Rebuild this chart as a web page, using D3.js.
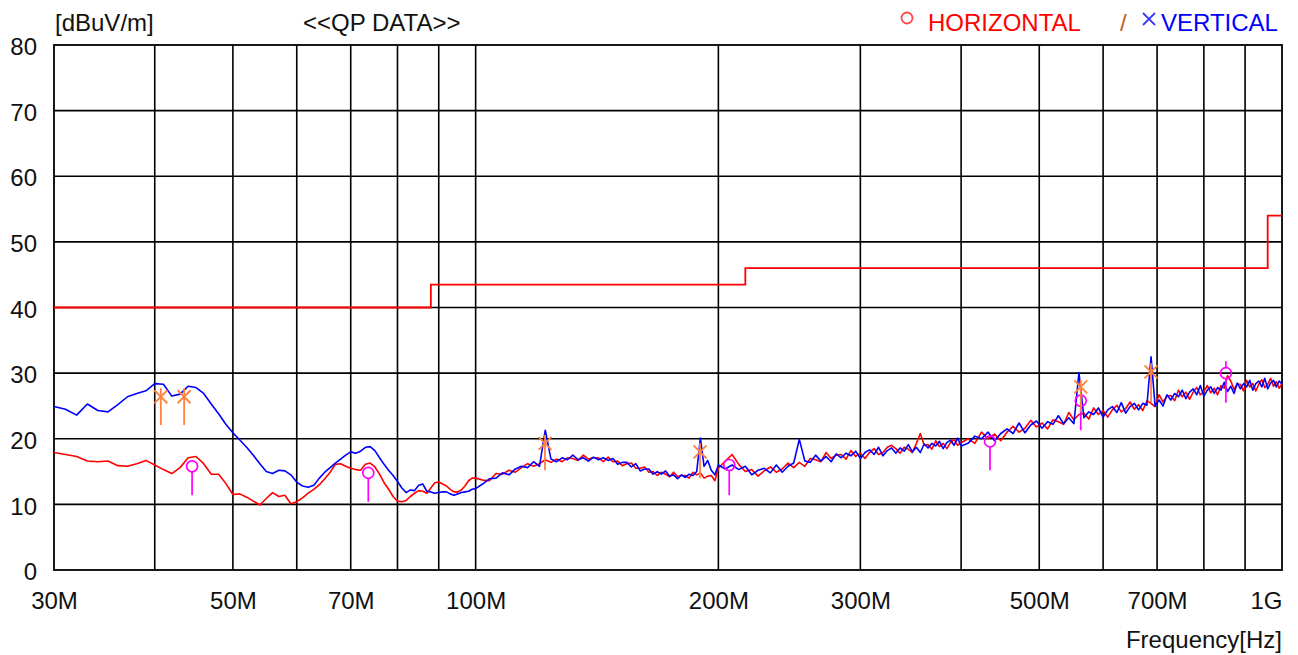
<!DOCTYPE html>
<html><head><meta charset="utf-8">
<script src="https://cdn.jsdelivr.net/npm/d3@7"></script>
<style>
body{margin:0;background:#fff;}
svg text{font-family:"Liberation Sans",Arial,sans-serif;font-size:24px;}
</style>
</head><body>
<svg id="chart" width="1298" height="655"></svg>
<script>
// ---- data (MHz, dBuV/m) ----
const freqMHz = [
30,31,32,33,34,35,36,37,38,39,40,41,42,43,44,45,46,47,48,49,
50,51,52,53,54,55,56,57,58,59,60,61,62,63,64,65,66,67,68,69,
70,71,72,73,74,75,76,77,78,79,80,81,82,83,84,85,86,87,88,89,
90,91,92,93,94,95,96,97,98,99,100,
102,104,106,108,110,112,114,116,118,120,122,124,126,128,130,132,134,136,138,140,
142,144,146,148,150,152,154,156,158,160,162,164,166,168,170,172,174,176,178,180,
182,184,186,188,190,192,194,196,198,200,
204,208,212,216,220,224,228,232,236,240,244,248,252,256,260,264,268,272,276,280,
284,288,292,296,300,304,308,312,316,320,324,328,332,336,340,344,348,352,356,360,
364,368,372,376,380,384,388,392,396,400,
408,416,424,432,440,448,456,464,472,480,488,496,504,512,520,528,536,544,552,560,
568,576,584,592,600,608,616,624,632,640,648,656,664,672,680,688,696,704,712,720,
728,736,744,752,760,768,776,784,792,800,808,816,824,832,840,848,856,864,872,880,
888,896,904,912,920,928,936,944,952,960,968,976,984,992,1000];

const horizontalLevel = [
17.9,17.6,17.3,16.6,16.5,16.6,15.9,15.8,16.2,16.7,
16.0,15.3,14.7,15.6,17.1,17.3,16.2,14.6,14.6,13.2,
11.5,11.6,11.1,10.5,9.9,10.9,11.8,11.2,11.4,10.1,
10.4,11.0,11.7,12.3,13.0,13.9,14.9,16.1,16.2,15.8,
15.5,15.3,15.2,16.1,16.3,15.7,14.6,13.3,12.3,11.2,
10.5,10.4,10.6,11.2,11.7,12.1,12.0,11.7,12.5,13.3,
13.4,13.1,12.8,12.3,11.9,11.9,12.2,12.8,13.6,14.0,
14.0,
13.7,13.6,14.7,14.6,15.2,14.9,15.6,16.2,15.8,16.2,
16.8,16.4,16.9,16.5,17.1,17.0,16.7,17.5,16.9,17.1,
17.1,16.5,17.2,16.5,16.6,15.9,16.2,16.3,15.5,15.5,
15.7,14.9,15.0,14.4,14.9,14.6,14.2,14.9,14.2,14.4,
14.4,14.0,14.9,14.5,14.8,14.0,14.3,14.4,13.6,15.5,
16.6,17.6,16.1,15.0,15.3,14.3,15.1,15.7,14.9,15.4,
16.3,15.6,16.4,15.8,17.0,16.8,16.5,17.9,17.0,17.5,
17.6,16.9,18.2,17.3,17.8,17.0,17.9,18.5,17.6,17.9,
18.7,19.0,18.5,17.8,18.7,18.4,17.9,19.3,20.8,19.0,
19.1,18.4,19.7,18.8,19.3,18.5,19.4,19.9,19.0,19.4,
20.0,19.3,21.0,20.0,20.7,19.7,21.0,21.9,21.0,21.6,
22.8,21.8,22.4,21.5,22.9,22.6,22.2,24.0,22.9,23.7,
23.9,23.0,24.7,23.7,24.3,23.3,24.4,25.1,24.1,24.6,
25.6,24.5,25.2,24.3,25.8,25.4,24.9,26.7,25.6,26.5,
26.6,25.8,27.4,26.4,27.1,26.0,27.1,27.8,26.7,27.2,
28.1,27.0,27.7,26.7,28.1,27.7,29.6,28.8,27.5,28.3,
28.3,27.3,28.9,27.9,28.4,27.3,28.3,29.0,27.8,28.3,
29.2,28.0,28.7,27.7,28.4];

const verticalLevel = [
24.9,24.5,23.6,25.3,24.3,24.1,25.2,26.4,26.9,27.3,
28.4,28.3,26.5,26.8,28.0,27.8,26.9,25.3,23.8,22.2,
20.9,19.8,18.7,17.5,16.2,15.0,14.7,15.2,15.1,14.5,
13.4,12.8,12.6,12.9,14.0,14.9,15.6,16.3,16.9,17.5,
18.0,17.8,18.1,18.7,18.8,18.2,17.1,16.1,15.2,14.4,
13.5,12.5,11.8,12.2,12.1,12.9,13.1,12.0,11.9,11.7,
11.8,11.9,11.9,11.6,11.4,11.6,11.8,11.9,12.0,12.3,
12.4,
13.1,13.9,14.0,14.8,14.5,15.4,15.8,15.6,16.5,15.8,
21.3,16.9,16.5,17.1,16.8,17.5,16.8,17.1,16.6,17.2,
16.8,17.1,16.7,17.0,16.1,16.4,16.4,15.7,16.2,15.1,
15.4,15.4,14.6,15.0,14.6,15.1,14.3,14.5,13.9,14.5,
14.1,14.6,14.4,15.0,20.1,15.8,16.7,15.2,14.5,16.0,
15.4,16.0,15.3,15.8,14.5,15.2,15.5,14.8,16.0,14.9,
15.8,16.3,19.9,16.6,16.4,17.5,16.6,17.3,16.5,17.7,
17.1,17.8,17.4,18.1,17.0,17.9,18.3,17.6,18.7,17.4,
18.2,18.6,17.8,18.6,18.1,19.1,18.0,18.7,17.9,19.2,
18.6,19.3,18.9,19.6,18.5,19.4,19.8,19.0,20.1,18.9,
19.3,20.4,20.0,21.0,19.7,20.8,21.5,20.8,22.4,20.9,
22.1,22.7,21.6,22.6,22.2,23.5,22.3,23.2,22.3,30.1,
23.2,24.1,23.7,24.7,23.3,24.4,24.9,24.0,25.5,23.9,
24.9,25.4,24.4,25.4,25.1,32.5,25.0,25.9,25.0,26.7,
25.9,26.9,26.4,27.4,26.1,27.1,27.6,26.7,28.1,26.5,
27.4,27.9,26.9,27.8,27.4,28.6,27.2,28.0,26.9,28.5,
27.6,28.4,27.9,28.9,27.4,28.4,28.8,27.9,29.2,27.6,
28.5,28.9,27.9,28.8,28.3];

const limitFreqMHz = [30, 88, 88, 216, 216, 960, 960, 1000];
const limitLevel   = [40, 40, 43.5, 43.5, 46, 46, 54, 54];

const horizontalMarkerFreq  = [44.5, 73.6, 206.3, 434.4, 562.9, 852];
const horizontalMarkerLevel = [15.8, 14.8, 16.0, 19.6, 25.8, 30.0];
const horizontalMarkerHigh  = [15.8, 14.8, 16.0, 19.6, 25.8, 31.8];
const horizontalMarkerLow   = [11.4, 10.4, 11.4, 15.2, 21.3, 25.5];

const verticalMarkerFreq  = [40.7, 43.5, 121.9, 189.8, 562.9, 688];
const verticalMarkerLevel = [26.4, 26.4, 19.3, 18.0, 27.9, 30.2];
const verticalMarkerHigh  = [27.7, 27.7, 20.6, 19.3, 29.0, 31.5];
const verticalMarkerLow   = [22.1, 22.1, 15.2, 14.0, 24.1, 25.6];

const xTickValues = [30, 50, 70, 100, 200, 300, 500, 700, 1000];
const xTickLabels = ["30M","50M","70M","100M","200M","300M","500M","700M","1G"];
const xGridValues = [40,50,60,70,80,90,100,200,300,400,500,600,700,800,900];
const yTickValues = [0,10,20,30,40,50,60,70,80];

// ---- drawing ----
const svg = d3.select("#chart");
const L = 54, R = 1282, T = 45, B = 570;
const x = d3.scaleLog().domain([30, 1000]).range([L, R]);
const y = d3.scaleLinear().domain([0, 80]).range([B, T]);

const COL_H = "#ff0000", COL_V = "#0000ff", COL_HM = "#ff00ff", COL_VM = "#ff8040";

// grid
const grid = svg.append("g").attr("stroke", "#000").attr("stroke-width", 1.6);
grid.selectAll("line.v").data(xGridValues).join("line")
  .attr("x1", d => x(d)).attr("x2", d => x(d)).attr("y1", T).attr("y2", B);
grid.selectAll("line.h").data(yTickValues.slice(1, -1)).join("line")
  .attr("x1", L).attr("x2", R).attr("y1", d => y(d)).attr("y2", d => y(d));
svg.append("rect").attr("x", L).attr("y", T).attr("width", R - L).attr("height", B - T)
  .attr("fill", "none").attr("stroke", "#000").attr("stroke-width", 1.8);

// axes labels
const yAxis = svg.append("g").attr("transform", `translate(${L},2)`)
  .call(d3.axisLeft(y).tickValues(yTickValues).tickSize(0).tickPadding(17));
yAxis.select(".domain").remove();
yAxis.selectAll("text").attr("fill", "#111").style("font-size", "24px");

const xAxis = svg.append("g").attr("transform", `translate(0,${B})`)
  .call(d3.axisBottom(x).tickValues(xTickValues).tickSize(0).tickPadding(22)
    .tickFormat((d, i) => xTickLabels[i]));
xAxis.select(".domain").remove();
xAxis.selectAll("text").attr("fill", "#111").style("font-size", "24px")
  .attr("text-anchor", d => d === 1000 ? "end" : "middle");

// limit line
const limitData = limitFreqMHz.map((f, i) => [f, limitLevel[i]]);
svg.append("path").datum(limitData)
  .attr("d", d3.line().x(d => x(d[0])).y(d => y(d[1])))
  .attr("fill", "none").attr("stroke", COL_H).attr("stroke-width", 1.8);

// traces
const line = d3.line().x(d => x(d[0])).y(d => y(d[1]));
svg.append("path").datum(freqMHz.map((f, i) => [f, horizontalLevel[i]]))
  .attr("d", line).attr("fill", "none").attr("stroke", COL_H).attr("stroke-width", 1.6)
  .attr("stroke-linejoin", "round");
svg.append("path").datum(freqMHz.map((f, i) => [f, verticalLevel[i]]))
  .attr("d", line).attr("fill", "none").attr("stroke", COL_V).attr("stroke-width", 1.6)
  .attr("stroke-linejoin", "round");

// horizontal QP markers (circle + line)
const r = 5.5;
const hm = svg.append("g").attr("stroke", COL_HM).attr("stroke-width", 1.7).attr("fill", "none");
horizontalMarkerFreq.forEach((f, i) => {
  const cx = x(f), cy = y(horizontalMarkerLevel[i]);
  hm.append("line").attr("x1", cx).attr("x2", cx).attr("y1", cy + r).attr("y2", y(horizontalMarkerLow[i]));
  const top = y(horizontalMarkerHigh[i]);
  if (top < cy - r) hm.append("line").attr("x1", cx).attr("x2", cx).attr("y1", top).attr("y2", cy - r);
  hm.append("circle").attr("cx", cx).attr("cy", cy).attr("r", r);
});

// vertical QP markers (x + line)
const s = 6.5;
const vm = svg.append("g").attr("stroke", COL_VM).attr("stroke-width", 1.8);
verticalMarkerFreq.forEach((f, i) => {
  const cx = x(f), cy = y(verticalMarkerLevel[i]);
  vm.append("line").attr("x1", cx).attr("x2", cx)
    .attr("y1", y(verticalMarkerHigh[i])).attr("y2", y(verticalMarkerLow[i]));
  vm.append("line").attr("x1", cx - s).attr("x2", cx + s).attr("y1", cy - s).attr("y2", cy + s);
  vm.append("line").attr("x1", cx - s).attr("x2", cx + s).attr("y1", cy + s).attr("y2", cy - s);
});

// header texts
svg.append("text").attr("x", 55).attr("y", 31).attr("fill", "#111").text("[dBuV/m]");
svg.append("text").attr("x", 303).attr("y", 31).attr("fill", "#111").text("<<QP DATA>>");
svg.append("circle").attr("cx", 907).attr("cy", 18).attr("r", 5.5)
  .attr("fill", "none").attr("stroke", "#ff4a4a").attr("stroke-width", 1.8);
svg.append("text").attr("x", 928).attr("y", 31).attr("fill", COL_H).text("HORIZONTAL");
svg.append("text").attr("x", 1120).attr("y", 31).attr("fill", "#c06020").text("/");
svg.append("g").attr("stroke", "#3a3aff").attr("stroke-width", 1.8)
  .call(g => {
    g.append("line").attr("x1", 1143).attr("x2", 1155).attr("y1", 13).attr("y2", 25);
    g.append("line").attr("x1", 1143).attr("x2", 1155).attr("y1", 25).attr("y2", 13);
  });
svg.append("text").attr("x", 1161).attr("y", 31).attr("fill", COL_V).text("VERTICAL");
svg.append("text").attr("x", 1282).attr("y", 648).attr("text-anchor", "end").attr("fill", "#111")
  .text("Frequency[Hz]");
</script>
</body></html>
